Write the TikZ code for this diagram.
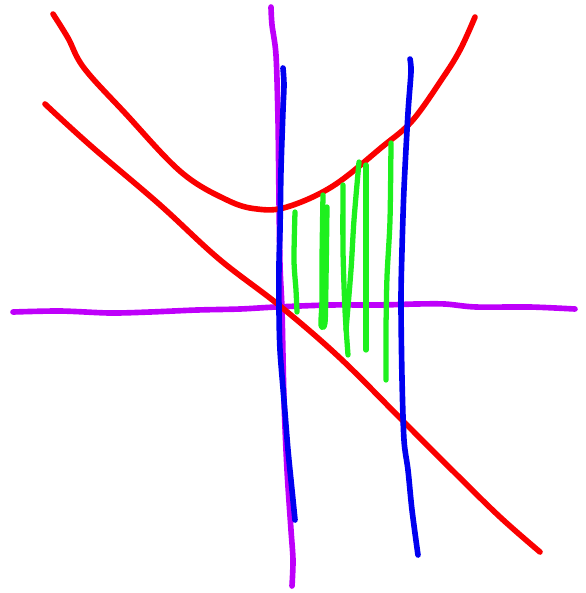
\documentclass[tikz,border=0pt]{standalone}
\usepackage{tikz}
\usetikzlibrary{calc}

\definecolor{axispurple}{RGB}{190,0,250}
\definecolor{curvered}{RGB}{250,0,0}
\definecolor{boundblue}{RGB}{0,0,240}
\definecolor{shadegreen}{RGB}{30,240,30}

\begin{document}
\begin{tikzpicture}[x=0.01cm, y=-0.01cm,
    stroke/.style={line width=1.6pt, line cap=round, line join=round},
    axisline/.style={stroke, axispurple},
    curveline/.style={stroke, curvered},
    boundline/.style={stroke, boundblue},
    shadeline/.style={stroke, shadegreen, line width=1.5pt}]

        \useasboundingbox (0,0) rectangle (586,593);

        % axes
        \draw[axisline] plot[smooth] coordinates {(13,312) (60,311) (110,313) (150,312) (197,310) (240,309) (276,307) (330,305) (380,305) (416,304) (445,304) (476,307) (530,307) (575,309)};
        \draw[axisline] plot[smooth] coordinates {(271,7) (272,25) (276,55) (278,120) (279,200) (280,265) (282,310) (284,400) (287,470) (291,530) (293,560) (292,586)};

        % parabola and line
        \draw[curveline] plot[smooth, tension=0.6] coordinates {(53,14) (68,38) (84,68) (125,113) (181,172) (227,200) (257,209) (287,207) (333,186) (382,147) (412,121) (442,79) (460,50) (475,17)};
        \draw[curveline] plot[smooth, tension=0.6] coordinates {(45,104) (91,146) (159,204) (219,259) (280,306) (340,358) (405,423) (454,472) (500,517) (540,552)};

        % hatching between the bounds
        \draw[shadeline] plot[smooth] coordinates {(295,212) (294,260) (296,290) (297,312)};
        \draw[shadeline] plot[smooth] coordinates {(323,195) (322,260) (322,300) (321,325) (325,323) (326,280) (327,207)};
        \draw[shadeline] plot[smooth] coordinates {(343,185) (343,250) (345,310) (348,355)};
        \draw[shadeline] plot[smooth] coordinates {(359,162) (354,220) (351,270) (346,330)};
        \draw[shadeline] plot[smooth] coordinates {(366,165) (366,250) (366,350)};
        \draw[shadeline] plot[smooth] coordinates {(391,143) (390,220) (387,277) (386,330) (386,380)};

        % vertical bounds
        \draw[boundline] plot[smooth] coordinates {(283,68) (284,85) (283,110) (281,170) (280,230) (279,265) (279,310) (280,350) (284,400) (288,450) (292,490) (295,520)};
        \draw[boundline] plot[smooth] coordinates {(410,59) (411,72) (408,113) (404,189) (402,250) (401,302) (402,378) (404,440) (408,470) (412,510) (418,555)};

\end{tikzpicture}
\end{document}
